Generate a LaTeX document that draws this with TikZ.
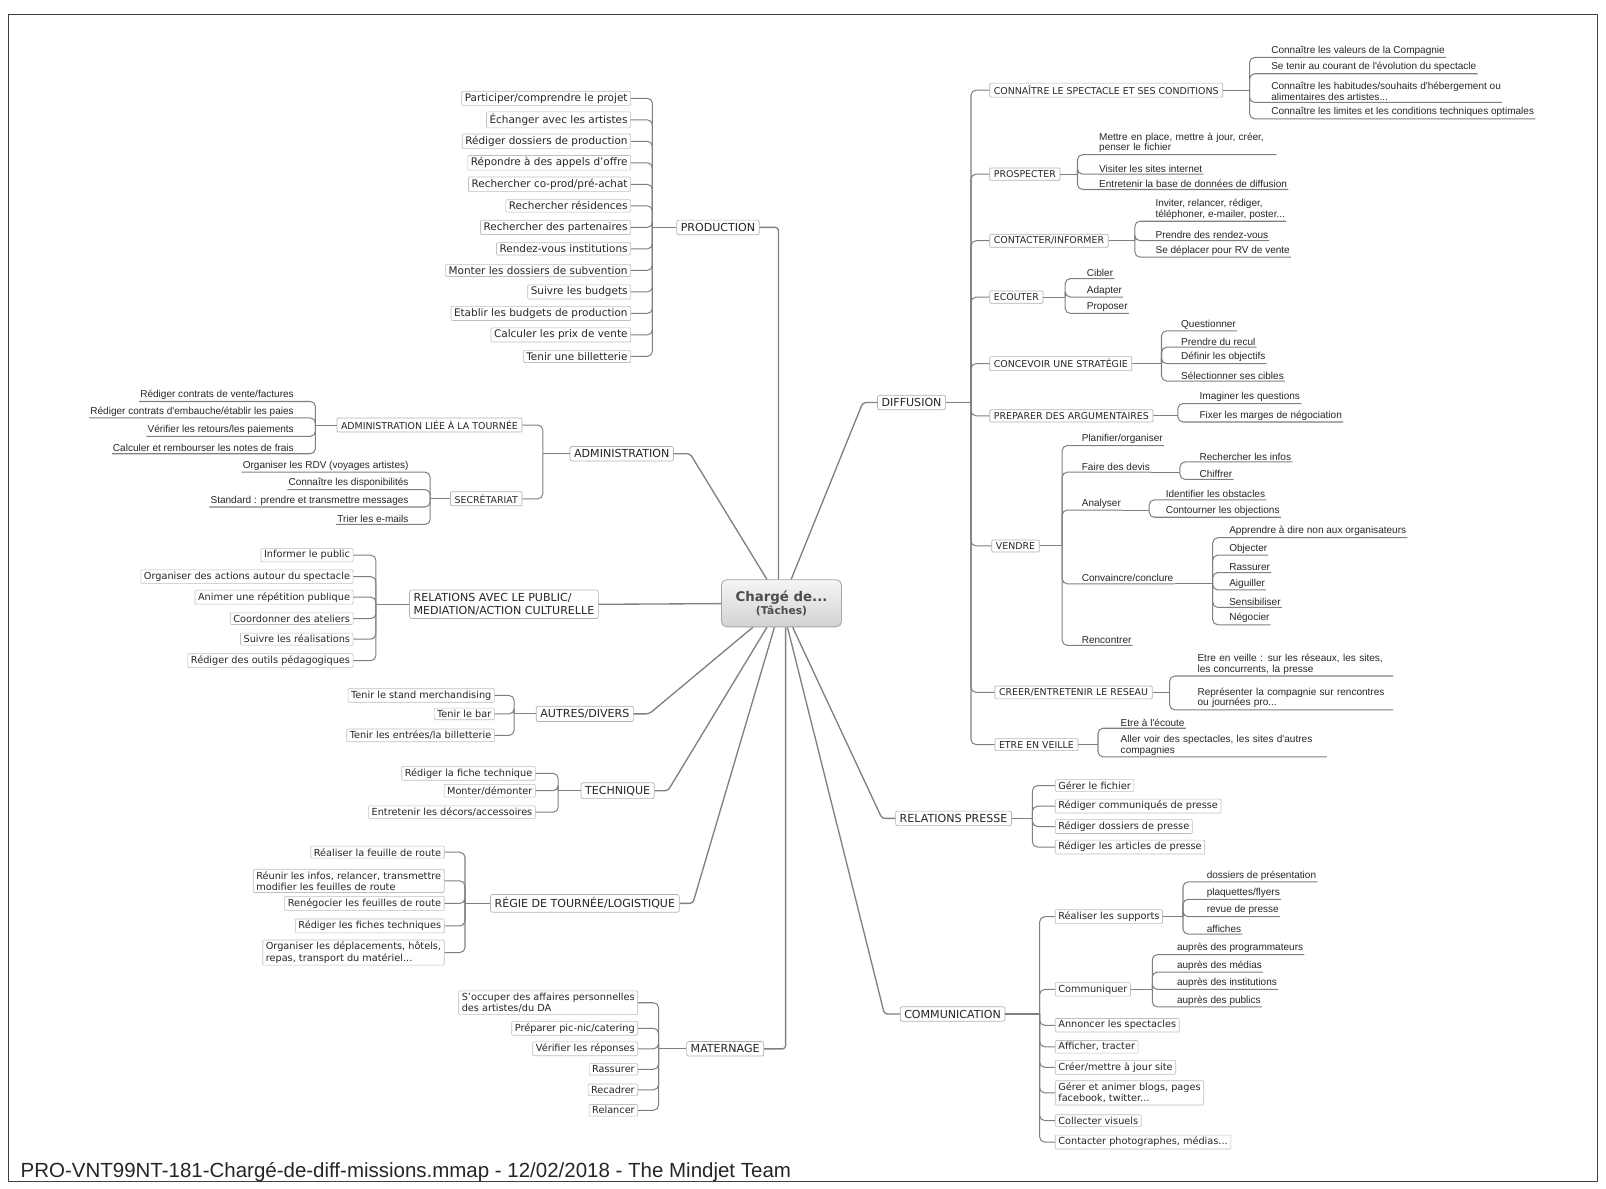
\documentclass[tikz,border=0pt]{standalone}
\usepackage{fontspec}
\setmainfont{DejaVu Sans}
\newfontfamily\ulfont{Liberation Sans}
\usetikzlibrary{positioning,calc}

\begin{document}
\begin{tikzpicture}[x=1pt, y=-1pt, line join=round]
	\tikzstyle{root}=[draw=gray!70, line width=0.8pt, rounded corners=5pt, top color=gray!8, bottom color=gray!35, text=black!70, font=\bfseries, align=center, minimum width=117pt, minimum height=46pt]
	\tikzstyle{topic}=[draw=gray!60, line width=0.7pt, fill=white, rounded corners=2pt, text=black!85, font=\fontsize{10.8}{12.8}\selectfont, inner xsep=4pt, inner ysep=3pt, align=left]
	\tikzstyle{subtopic}=[topic, font=\fontsize{9.2}{10.5}\selectfont, inner ysep=2.5pt, rounded corners=1pt]
	\tikzstyle{leaf}=[draw=gray!50, line width=0.6pt, fill=white, rounded corners=1pt, text=black!85, font=\fontsize{9.5}{11}\selectfont, inner xsep=3pt, inner ysep=2pt, align=left]
	\tikzstyle{bigleaf}=[leaf, font=\fontsize{10.2}{11.5}\selectfont]
	\tikzstyle{uleaf}=[anchor=south west, text=black!85, font=\ulfont\fontsize{9.8}{10.5}\selectfont, inner xsep=1pt, inner ysep=1.5pt, align=left]
	\tikzstyle{luleaf}=[uleaf, anchor=south east]
	\tikzstyle{link}=[draw=gray, line width=1pt, rounded corners=5pt]
	\tikzstyle{trunk}=[draw=gray, line width=1.3pt, rounded corners=3pt]
	\useasboundingbox (0,0) rectangle (1568,1160);
	\draw[gray!50!black, line width=0.8pt] (8,14) rectangle (1560,1153);
	\node[anchor=base west, inner sep=0, text=black!85, font=\ulfont\fontsize{20}{22}\selectfont] (foot) at (20,1150) {PRO-VNT99NT-181-Chargé-de-diff-missions.mmap - 12/02/2018 - The Mindjet Team};

	% centre
	\node[root] (root) at (763,589) {\fontsize{13}{15}\selectfont Chargé de...\\[1pt]\fontsize{10.5}{12}\selectfont (Tâches)};

	% main branches
	\node[topic] (prod)   at (701,222)  {PRODUCTION};
	\node[topic] (adm)    at (607,443)  {ADMINISTRATION};
	\node[topic] (rpub)   at (492,590)  {RELATIONS AVEC LE PUBLIC/\\MEDIATION/ACTION CULTURELLE};
	\node[topic] (autres) at (571,697)  {AUTRES/DIVERS};
	\node[topic] (tech)   at (603,772)  {TECHNIQUE};
	\node[topic] (regie)  at (571,882)  {RÉGIE DE TOURNÉE/LOGISTIQUE};
	\node[topic] (mat)    at (708,1024) {MATERNAGE};
	\node[topic] (diff)   at (890,393)  {DIFFUSION};
	\node[topic] (presse) at (931,799)  {RELATIONS PRESSE};
	\node[topic] (comm)   at (930,990)  {COMMUNICATION};

	\draw[trunk] (prod.east) -| ([xshift=-3pt]root.north);
	\draw[trunk] (adm.east) -- ++(16,0) -- (root);
	\draw[trunk] (rpub.east) -- (root);
	\draw[trunk] (autres.east) -- ++(15,0) -- (root);
	\draw[trunk] (tech.east) -- ++(13,0) -- (root);
	\draw[trunk] (regie.east) -- ++(13,0) -- (root);
	\draw[trunk] (mat.east) -| ([xshift=4pt]root.south);
	\draw[trunk] (diff.west) -- ++(-14,0) -- (root);
	\draw[trunk] (presse.west) -- ++(-13,0) -- (root);
	\draw[trunk] (comm.west) -- ++(-15,0) -- (root);

	% production
	\coordinate (prodS) at (637,222);
	\draw[link] (prod.west) -- (prodS);
	\foreach \t [count=\i] in {{Participer/comprendre le projet}, {Échanger avec les artistes}, {Rédiger dossiers de production}, {Répondre à des appels d'offre}, {Rechercher co-prod/pré-achat}, {Rechercher résidences}, {Rechercher des partenaires}, {Rendez-vous institutions}, {Monter les dossiers de subvention}, {Suivre les budgets}, {Etablir les budgets de production}, {Calculer les prix de vente}, {Tenir une billetterie}} {
		\node[bigleaf, anchor=east] (prod\i) at (616,75+21*\i) {\t};
		\draw[link] (prod\i.east) -| (prodS);
	}

	% administration
	\node[subtopic, anchor=east] (adt) at (510,415) {ADMINISTRATION LIÉE À LA TOURNÉE};
	\node[subtopic, anchor=east] (sec) at (510,487) {SECRÉTARIAT};
	\coordinate (admS) at (530,443);
	\draw[link] (adm.west) -- (admS);
	\draw[link] (adt.east) -| (admS);
	\draw[link] (sec.east) -| (admS);
	\coordinate (adtS) at (308,415);
	\draw[link] (adt.west) -- (adtS);
	\foreach \y/\t [count=\i] in {392/{Rédiger contrats de vente/factures}, 408/{Rédiger contrats d'embauche/établir les paies}, 426/{Vérifier les retours/les paiements}, 443/{Calculer et rembourser les notes de frais}} {
		\node[luleaf] (adt\i) at (288,\y) {\t};
		\draw[link] (adt\i.south west) -| (adtS);
	}
	\coordinate (secS) at (420,487);
	\draw[link] (sec.west) -- (secS);
	\foreach \y/\t [count=\i] in {461/{Organiser les RDV (voyages artistes)}, 478/{Connaître les disponibilités}, 495/{Standard : prendre et transmettre messages}, 512/{Trier les e-mails}} {
		\node[luleaf] (sec\i) at (400,\y) {\t};
		\draw[link] (sec\i.south west) -| (secS);
	}

	% relations avec le public
	\coordinate (rpubS) at (367,590);
	\draw[link] (rpub.west) -- (rpubS);
	\foreach \y/\t [count=\i] in {542/{Informer le public}, 563/{Organiser des actions autour du spectacle}, 583/{Animer une répétition publique}, 604/{Coordonner des ateliers}, 624/{Suivre les réalisations}, 645/{Rédiger des outils pédagogiques}} {
		\node[leaf, anchor=east] (rpub\i) at (345,\y) {\t};
		\draw[link] (rpub\i.east) -| (rpubS);
	}

	% autres / technique
	\coordinate (autresS) at (502,697);
	\draw[link] (autres.west) -- (autresS);
	\foreach \y/\t [count=\i] in {679/{Tenir le stand merchandising}, 697/{Tenir le bar}, 718/{Tenir les entrées/la billetterie}} {
		\node[leaf, anchor=east] (autres\i) at (483,\y) {\t};
		\draw[link] (autres\i.east) -| (autresS);
	}
	\coordinate (techS) at (545,772);
	\draw[link] (tech.west) -- (techS);
	\foreach \y/\t [count=\i] in {755/{Rédiger la fiche technique}, 772/{Monter/démonter}, 793/{Entretenir les décors/accessoires}} {
		\node[leaf, anchor=east] (tech\i) at (523,\y) {\t};
		\draw[link] (tech\i.east) -| (techS);
	}

	% regie
	\coordinate (regieS) at (454,882);
	\draw[link] (regie.west) -- (regieS);
	\foreach \y/\t [count=\i] in {832/{Réaliser la feuille de route}, 860/{Réunir les infos, relancer, transmettre\\modifier les feuilles de route}, 882/{Renégocier les feuilles de route}, 904/{Rédiger les fiches techniques}, 930/{Organiser les déplacements, hôtels,\\repas, transport du matériel...}} {
		\node[leaf, anchor=east] (regie\i) at (434,\y) {\t};
		\draw[link] (regie\i.east) -| (regieS);
	}

	% maternage
	\coordinate (matS) at (643,1024);
	\draw[link] (mat.west) -- (matS);
	\foreach \y/\t [count=\i] in {979/{S'occuper des affaires personnelles\\des artistes/du DA}, 1004/{Préparer pic-nic/catering}, 1024/{Vérifier les réponses}, 1044/{Rassurer}, 1064/{Recadrer}, 1084/{Relancer}} {
		\node[leaf, anchor=east] (mat\i) at (623,\y) {\t};
		\draw[link] (mat\i.east) -| (matS);
	}

	% diffusion
	\coordinate (diffS) at (948,393);
	\draw[link] (diff.east) -- (diffS);
	\node[subtopic, anchor=west] (con) at (966,88)  {CONNAÎTRE LE SPECTACLE ET SES CONDITIONS};
	\node[subtopic, anchor=west] (pro) at (966,170) {PROSPECTER};
	\node[subtopic, anchor=west] (cti) at (966,235) {CONTACTER/INFORMER};
	\node[subtopic, anchor=west] (eco) at (966,290) {ECOUTER};
	\node[subtopic, anchor=west] (cst) at (966,355) {CONCEVOIR UNE STRATÉGIE};
	\node[subtopic, anchor=west] (arg) at (966,406) {PREPARER DES ARGUMENTAIRES};
	\node[subtopic, anchor=west] (ven) at (968,533) {VENDRE};
	\node[subtopic, anchor=west] (res) at (971,676) {CREER/ENTRETENIR LE RESEAU};
	\node[subtopic, anchor=west] (vei) at (971,727) {ETRE EN VEILLE};
	\foreach \n in {con,pro,cti,eco,cst,arg,ven,res,vei}
		\draw[link] (diffS) |- (\n.west);

	\coordinate (conS) at (1220,88);
	\draw[link] (con.east) -- (conS);
	\node[uleaf] (con1) at (1240,56)  {Connaître les valeurs de la Compagnie};
	\node[uleaf] (con2) at (1240,72)  {Se tenir au courant de l'évolution du spectacle};
	\node[uleaf] (con3) at (1240,100) {Connaître les habitudes/souhaits d'hébergement ou\\alimentaires des artistes...};
	\node[uleaf] (con4) at (1240,116) {Connaître les limites et les conditions techniques optimales};
	\foreach \i in {1,...,4} \draw[link] (conS) |- (con\i.south east);

	\coordinate (proS) at (1052,170);
	\draw[link] (pro.east) -- (proS);
	\node[uleaf, text width=172pt] (pro1) at (1072,151) {Mettre en place, mettre à jour, créer,\\penser le fichier};
	\node[uleaf] (pro2) at (1072,170) {Visiter les sites internet};
	\node[uleaf] (pro3) at (1072,185) {Entretenir la base de données de diffusion};
	\foreach \i in {1,...,3} \draw[link] (proS) |- (pro\i.south east);

	\coordinate (ctiS) at (1108,235);
	\draw[link] (cti.east) -- (ctiS);
	\node[uleaf] (cti1) at (1127,216) {Inviter, relancer, rédiger,\\téléphoner, e-mailer, poster...};
	\node[uleaf] (cti2) at (1127,235) {Prendre des rendez-vous};
	\node[uleaf] (cti3) at (1127,251) {Se déplacer pour RV de vente};
	\foreach \i in {1,...,3} \draw[link] (ctiS) |- (cti\i.south east);

	\coordinate (ecoS) at (1040,290);
	\draw[link] (eco.east) -- (ecoS);
	\foreach \y/\t [count=\i] in {272/Cibler, 290/Adapter, 306/Proposer} {
		\node[uleaf] (eco\i) at (1060,\y) {\t};
		\draw[link] (ecoS) |- (eco\i.south east);
	}

	\coordinate (cstS) at (1134,355);
	\draw[link] (cst.east) -- (cstS);
	\foreach \y/\t [count=\i] in {323/{Questionner}, 339/{Prendre du recul}, 355/{Définir les objectifs}, 372/{Sélectionner ses cibles}} {
		\node[uleaf] (cst\i) at (1152,\y) {\t};
		\draw[link] (cstS) |- (cst\i.south east);
	}

	\coordinate (argS) at (1150,406);
	\draw[link] (arg.east) -- (argS);
	\foreach \y/\t [count=\i] in {394/{Imaginer les questions}, 412/{Fixer les marges de négociation}} {
		\node[uleaf] (arg\i) at (1170,\y) {\t};
		\draw[link] (argS) |- (arg\i.south east);
	}

	% vendre
	\coordinate (venS) at (1037,533);
	\draw[link] (ven.east) -- (venS);
	\node[uleaf] (plan) at (1055,435) {Planifier/organiser};
	\node[uleaf] (devis) at (1055,461) {Faire des devis};
	\node[uleaf] (ana) at (1055,498) {Analyser};
	\node[uleaf] (conv) at (1055,570) {Convaincre/conclure};
	\node[uleaf] (renc) at (1055,630) {Rencontrer};
	\foreach \n in {plan,devis,ana,conv,renc}
		\draw[link] (venS) |- (\n.south east);

	\coordinate (devisS) at (1152,461);
	\draw[link] (devis.south east) -- (devisS);
	\foreach \y/\t [count=\i] in {451/{Rechercher les infos}, 468/{Chiffrer}} {
		\node[uleaf] (devis\i) at (1170,\y) {\t};
		\draw[link] (devisS) |- (devis\i.south east);
	}
	\coordinate (anaS) at (1122,498);
	\draw[link] (ana.south east) -- (anaS);
	\foreach \y/\t [count=\i] in {488/{Identifier les obstacles}, 505/{Contourner les objections}} {
		\node[uleaf] (ana\i) at (1137,\y) {\t};
		\draw[link] (anaS) |- (ana\i.south east);
	}
	\coordinate (convS) at (1184,570);
	\draw[link] (conv.south east) -- (convS);
	\foreach \y/\t [count=\i] in {525/{Apprendre à dire non aux organisateurs}, 542/{Objecter}, 559/{Rassurer}, 576/{Aiguiller}, 593/{Sensibiliser}, 610/{Négocier}} {
		\node[uleaf] (conv\i) at (1199,\y) {\t};
		\draw[link] (convS) |- (conv\i.south east);
	}

	\coordinate (resS) at (1142,676);
	\draw[link] (res.east) -- (resS);
	\node[uleaf, text width=190pt] (res1) at (1168,660) {Etre en veille : sur les réseaux, les sites,\\les concurrents, la presse};
	\node[uleaf, text width=190pt] (res2) at (1168,693) {Représenter la compagnie sur rencontres\\ou journées pro...};
	\foreach \i in {1,2} \draw[link] (resS) |- (res\i.south east);

	\coordinate (veiS) at (1072,727);
	\draw[link] (vei.east) -- (veiS);
	\node[uleaf] (vei1) at (1093,711) {Etre à l'écoute};
	\node[uleaf, text width=200pt] (vei2) at (1093,739) {Aller voir des spectacles, les sites d'autres\\compagnies};
	\foreach \i in {1,2} \draw[link] (veiS) |- (vei\i.south east);

	% relations presse
	\coordinate (presseS) at (1008,799);
	\draw[link] (presse.east) -- (presseS);
	\foreach \y/\t [count=\i] in {767/{Gérer le fichier}, 787/{Rédiger communiqués de presse}, 807/{Rédiger dossiers de presse}, 827/{Rédiger les articles de presse}} {
		\node[leaf, anchor=west] (presse\i) at (1030,\y) {\t};
		\draw[link] (presseS) |- (presse\i.west);
	}

	% communication
	\coordinate (commS) at (1015,990);
	\draw[link] (comm.east) -- (commS);
	\foreach \y/\t/\n in {895/{Réaliser les supports}/supp, 966/{Communiquer}/comu, 1001/{Annoncer les spectacles}/ann, 1022/{Afficher, tracter}/aff, 1042/{Créer/mettre à jour site}/site, 1067/{Gérer et animer blogs, pages\\facebook, twitter...}/blog, 1094/{Collecter visuels}/vis, 1115/{Contacter photographes, médias...}/photo} {
		\node[leaf, anchor=west] (\n) at (1030,\y) {\t};
		\draw[link] (commS) |- (\n.west);
	}
	\coordinate (suppS) at (1155,895);
	\draw[link] (supp.east) -- (suppS);
	\foreach \y/\t [count=\i] in {861/{dossiers de présentation}, 878/{plaquettes/flyers}, 895/{revue de presse}, 912/{affiches}} {
		\node[uleaf] (supp\i) at (1177,\y) {\t};
		\draw[link] (suppS) |- (supp\i.south east);
	}
	\coordinate (comuS) at (1125,966);
	\draw[link] (comu.east) -- (comuS);
	\foreach \y/\t [count=\i] in {932/{auprès des programmateurs}, 949/{auprès des médias}, 966/{auprès des institutions}, 983/{auprès des publics}} {
		\node[uleaf] (comu\i) at (1148,\y) {\t};
		\draw[link] (comuS) |- (comu\i.south east);
	}
\end{tikzpicture}
\end{document}
